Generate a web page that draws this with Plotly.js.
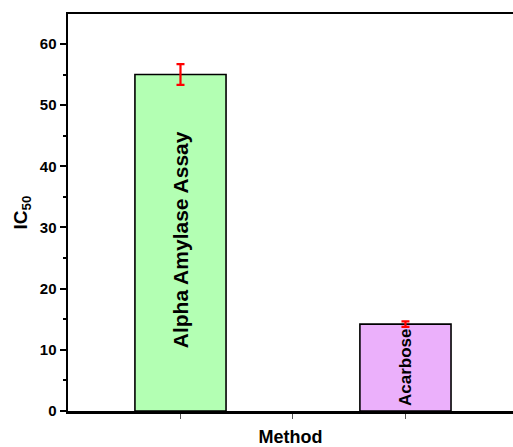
<!DOCTYPE html>
<html>
<head>
<meta charset="utf-8">
<script src="https://cdn.plot.ly/plotly-3.0.1.min.js"></script>
<style>html,body{margin:0;padding:0;background:#fff;}#chart{width:513px;height:447px;}</style>
</head>
<body>
<div id="chart"></div>
<script>
const categories = ["Alpha Amylase Assay", "Acarbose"];
const positions = [1, 2];
const ic50 = [55.0, 14.2];
const errors = [1.7, 0.45];
const barColors = ["#b3ffb3", "#ebb0fb"];
const labelSizes = [21, 17];
const labelShifts = [3, 0];
const yTicks = [0, 10, 20, 30, 40, 50, 60];

const F = "Arial, 'Liberation Sans', sans-serif";

const trace = {
  type: "bar",
  x: positions,
  y: ic50,
  width: 0.405,
  marker: {color: barColors, line: {color: "#000", width: 1.6}},
  error_y: {type: "data", array: errors, visible: true, color: "#ff0000", thickness: 2.2, width: 4},
  hoverinfo: "none",
  showlegend: false
};

const annotations = categories.map((c, i) => ({
  x: positions[i], y: ic50[i] / 2, xref: "x", yref: "y", yshift: labelShifts[i],
  text: "<b>" + c + "</b>", showarrow: false, textangle: -90,
  font: {family: F, size: labelSizes[i], color: "#000"}
}));

const layout = {
  width: 513, height: 447,
  margin: {l: 68, r: 0, t: 14, b: 36},
  paper_bgcolor: "#fff", plot_bgcolor: "#fff",
  font: {family: F, color: "#000"},
  annotations: annotations,
  xaxis: {
    range: [0.5, 2.478],
    tickvals: [1, 1.5, 2],
    showticklabels: false,
    ticks: "outside", ticklen: 5, tickwidth: 1, tickcolor: "#555",
    showgrid: false, zeroline: false,
    showline: true, linecolor: "#000", linewidth: 2.5, mirror: true,
    title: {text: "<b>Method</b>", font: {family: F, size: 18, color: "#000"}, standoff: 13}
  },
  yaxis: {
    range: [0, 64.9],
    tickvals: yTicks,
    ticktext: yTicks.map(v => "<b>" + v + "</b>"),
    tickfont: {family: F, size: 15, color: "#000"},
    ticks: "outside", ticklen: 6, tickwidth: 2, tickcolor: "#000",
    minor: {dtick: 5, tick0: 0, ticks: "outside", ticklen: 3, tickwidth: 2, tickcolor: "#000", showgrid: false},
    showgrid: false, zeroline: false,
    showline: true, linecolor: "#000", linewidth: 2.5, mirror: false,
    title: {text: "<b>IC<sub>50</sub></b>", font: {family: F, size: 19, color: "#000"}, standoff: 7}
  }
};

Plotly.newPlot("chart", [trace], layout, {staticPlot: true, displayModeBar: false});
</script>
</body>
</html>
